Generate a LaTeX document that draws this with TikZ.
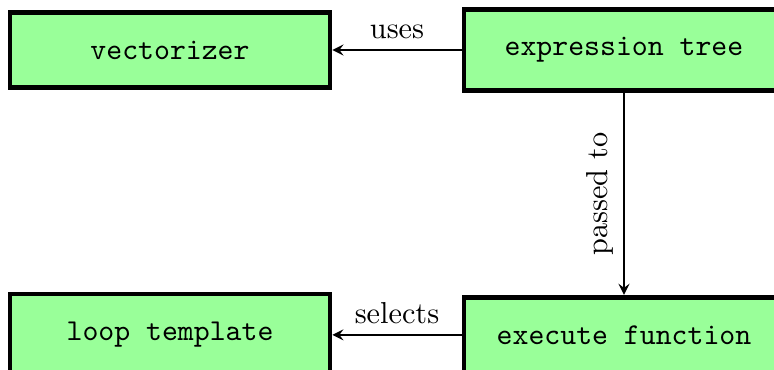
\documentclass[tikz,border=0pt]{standalone}
\usepackage{tikz}
\usetikzlibrary{positioning,arrows}
\def\colsep{149.8pt}
\def\rowsep{94pt}

\begin{document}
\begin{tikzpicture}[->,>=stealth,semithick,node distance=\colsep]
    \tikzstyle{part}=[rectangle,draw=black,ultra thick,fill=green!40,
        minimum width=105.6pt,inner ysep=9.3pt,font=\ttfamily]
    \tikzstyle{annot}=[font=\normalfont]

    % Crop the page to the frame of the picture
    \useasboundingbox (-56.1pt,16.5pt) rectangle (199.3pt,-105.3pt);

    % Draw the four parts
    \node[part] (vec) at (0,0) {vectorizer};
    \node[part,right of=vec] (tree) {expression tree};
    \node[part,below of=tree,node distance=\rowsep] (exec) {execute function};
    \node[part,left of=exec] (loop) {loop template};

    % Connect the parts
    \draw (tree) -- node[annot,above] {uses} (vec);
    \draw (tree) -- node[annot,midway,rotate=90,anchor=south] {passed to} (exec);
    \draw (exec) -- node[annot,above] {selects} (loop);
\end{tikzpicture}
\end{document}
